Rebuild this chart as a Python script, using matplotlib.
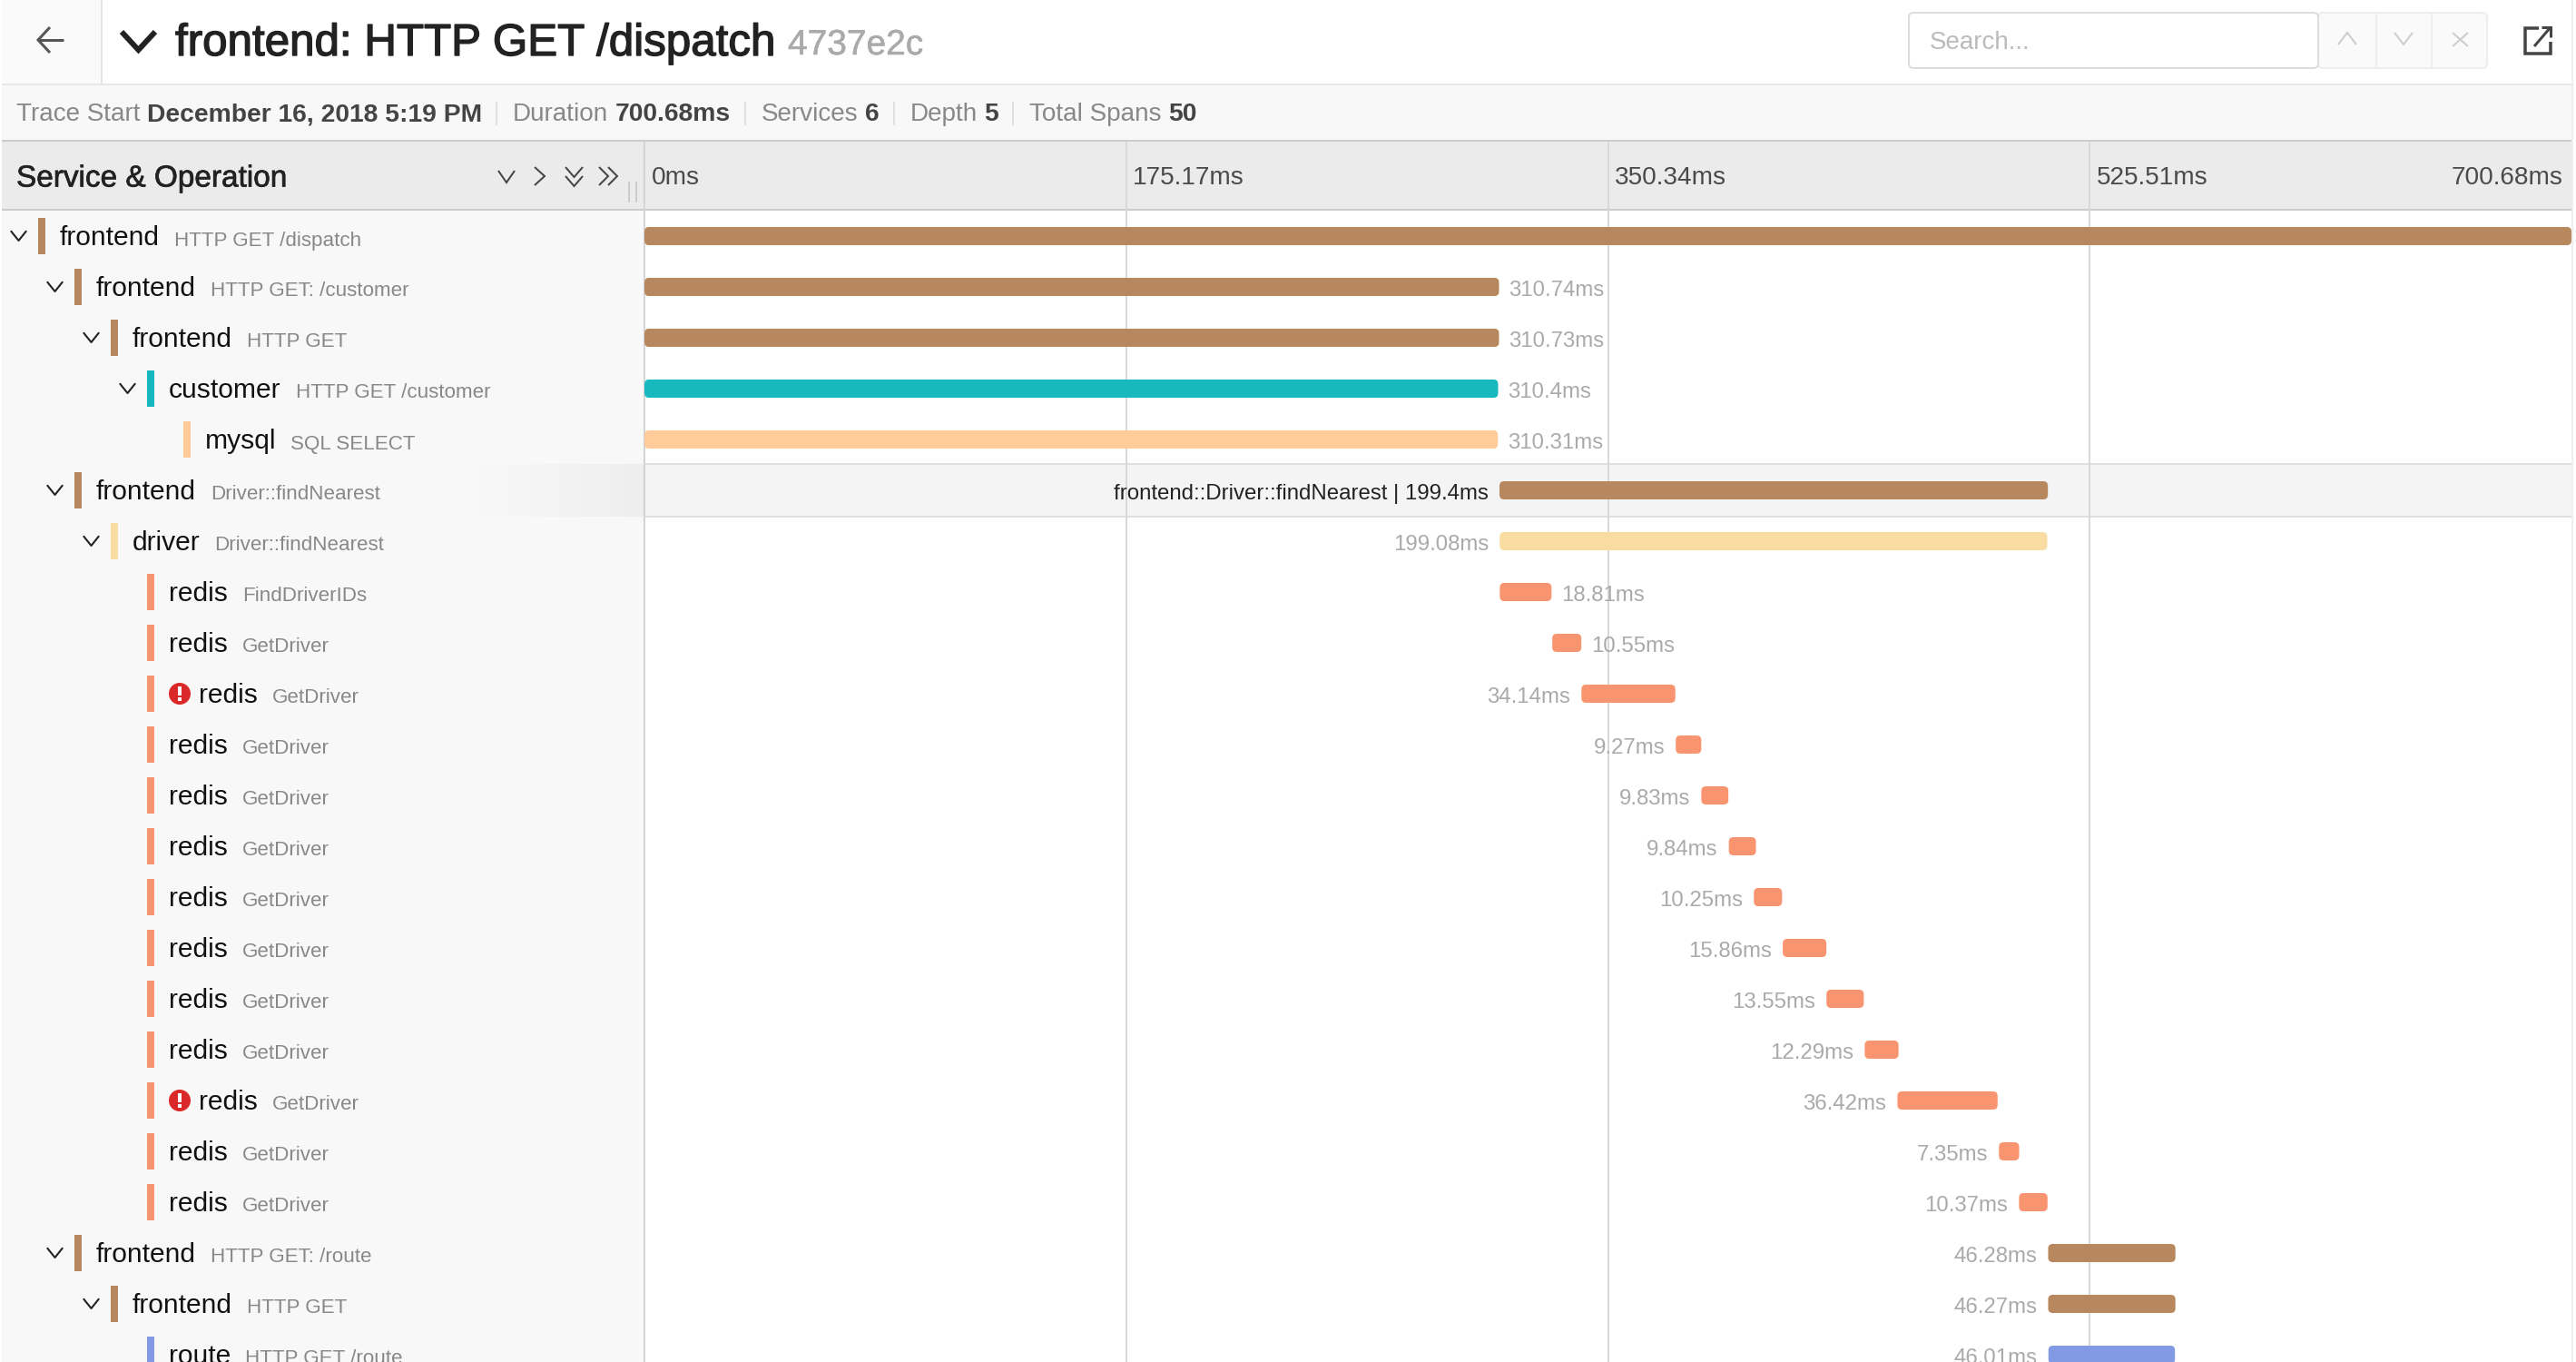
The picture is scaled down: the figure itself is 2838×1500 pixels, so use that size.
import numpy as np
import matplotlib
matplotlib.use("Agg")
import matplotlib.pyplot as plt
import matplotlib.patheffects as pe
from matplotlib.colors import LinearSegmentedColormap
from matplotlib.patches import FancyBboxPatch, Rectangle, Circle

plt.rcParams['font.family'] = ['Liberation Sans', 'DejaVu Sans']

# Spans
services = ["frontend", "frontend", "frontend", "customer", "mysql", "frontend", "driver",
            "redis", "redis", "redis", "redis", "redis", "redis", "redis", "redis",
            "redis", "redis", "redis", "redis", "redis", "frontend", "frontend", "route"]
operations = ["HTTP GET /dispatch", "HTTP GET: /customer", "HTTP GET", "HTTP GET /customer", "SQL SELECT",
              "Driver::findNearest", "Driver::findNearest", "FindDriverIDs", "GetDriver", "GetDriver",
              "GetDriver", "GetDriver", "GetDriver", "GetDriver", "GetDriver", "GetDriver", "GetDriver",
              "GetDriver", "GetDriver", "GetDriver", "HTTP GET: /route", "HTTP GET", "HTTP GET /route"]
levels = [0, 1, 2, 3, 4, 1, 2, 3, 3, 3, 3, 3, 3, 3, 3, 3, 3, 3, 3, 3, 1, 2, 3]
starts = [0, 0, 0, 0, 0, 310.9, 311.0, 311.0, 330.1, 340.7, 375.0, 384.3, 394.3,
          403.4, 413.9, 429.8, 443.7, 455.6, 492.5, 499.8, 510.4, 510.4, 510.5]
durations = [700.68, 310.74, 310.73, 310.4, 310.31, 199.4, 199.08, 18.81, 10.55, 34.14, 9.27, 9.83, 9.84,
             10.25, 15.86, 13.55, 12.29, 36.42, 7.35, 10.37, 46.28, 46.27, 46.01]
label_right = [1, 2, 3, 4, 7, 8]
has_children = [0, 1, 2, 3, 5, 6, 20, 21]
has_error = [9, 17]
hover_row = 5
hover_label = "frontend::Driver::findNearest | 199.4ms"

service_colors = {"frontend": "#B7885E", "customer": "#17B8BE", "mysql": "#FFCB99",
                  "driver": "#F8DCA1", "redis": "#F89570", "route": "#829AE3"}

# Time axis
tick_times = [0, 175.17, 350.34, 525.51]
tick_labels = ["0ms", "175.17ms", "350.34ms", "525.51ms"]
total_time = 700.68
total_label = "700.68ms"

# Header text
title = "frontend: HTTP GET /dispatch"
trace_id = "4737e2c"
meta_names = ["Trace Start", "Duration", "Services", "Depth", "Total Spans"]
meta_values = ["December 16, 2018 5:19 PM", "700.68ms", "6", "5", "50"]

PT = 0.72  # one pixel in points at dpi 100
W, H = 2838, 1500
ROW0, ROW_H = 260, 56
TL_LEFT, TL_RIGHT, TL_TOP = 710, 2833, 156


def row_y(i):
    return ROW0 + ROW_H * i


def stroke(w, color):
    return [pe.withStroke(linewidth=w, foreground=color)]


fig = plt.figure(figsize=(W / 100, H / 100), dpi=100, facecolor="white")
rend = fig.canvas.get_renderer()

# Page furniture lives in a pixel axes
ax = fig.add_axes([0, 0, 1, 1], zorder=0)
ax.axis("off")
ax.set_xlim(0, W)
ax.set_ylim(H, 0)


def line(xs, ys, color, px=2, **kw):
    ax.plot(xs, ys, color=color, lw=px * PT, solid_capstyle=kw.pop("cap", "butt"),
            solid_joinstyle="miter", **kw)


def box(x0, y0, x1, y1, color):
    ax.add_patch(Rectangle((x0, y0), x1 - x0, y1 - y0, fc=color, ec="none", lw=0))


box(2, 0, 112, 92, "#FAFAFA")
box(2, 92, 2833, 94, "#E8E8E8")
box(2, 94, 2833, 154, "#F8F8F8")
box(2, 154, 2833, 156, "#CCCCCC")
box(2, 156, 2833, 230, "#EBEBEB")
box(2, 230, 2833, 232, "#CCCCCC")
box(2, 232, 710, H, "#F8F8F8")
box(111, 0, 113, 92, "#E4E4E4")
box(2833, 0, 2835, H, "#EEEEEE")

# back arrow and title
line([70, 42], [44, 44], "#555555", 3)
line([55, 42, 55], [30, 44, 58], "#555555", 3)
line([134, 152.5, 171], [35, 55, 35], "#222222", 6)
ax.text(193, 61, title, fontsize=35.5, color="#222222", va="baseline",
        path_effects=stroke(1.0, "#222222"))
ax.text(868, 60, trace_id, fontsize=28, color="#AAAAAA", va="baseline",
        path_effects=stroke(0.4, "#AAAAAA"))

# search box
ax.add_patch(FancyBboxPatch((2554, 14), 186, 61, boxstyle="round,pad=0,rounding_size=5",
                            fc="#FAFAFA", ec="#EEEEEE", lw=2 * PT))
ax.add_patch(FancyBboxPatch((2103, 14), 451, 61, boxstyle="round,pad=0,rounding_size=5",
                            fc="white", ec="#DDDDDD", lw=2 * PT))
ax.text(2126, 54, "Search...", fontsize=20, color="#BBBBBB", va="baseline")
line([2618, 2618], [14, 75], "#EEEEEE")
line([2679, 2679], [14, 75], "#EEEEEE")
line([2576, 2586, 2596], [49, 36, 49], "#CCCCCC")
line([2638, 2648, 2658], [36, 49, 36], "#CCCCCC")
line([2702, 2719], [36, 51], "#CCCCCC")
line([2719, 2702], [36, 51], "#CCCCCC")

# external link icon
line([2797, 2782, 2782, 2810, 2810], [31, 31, 59, 59, 46], "#444444", 3.5)
line([2792, 2810], [51, 30], "#444444", 3)
line([2800, 2810, 2810], [30, 30, 41], "#444444", 3)

# meta row
x = 18
for i, (n, v) in enumerate(zip(meta_names, meta_values)):
    a = ax.text(x, 133, n, fontsize=20.1, color="#888888", va="baseline")
    x = a.get_window_extent(rend).x1 + 7.5
    b = ax.text(x, 133, v, fontsize=20.3, color="#444444", va="baseline", fontweight="bold")
    x = b.get_window_extent(rend).x1 + 16
    if i < len(meta_names) - 1:
        line([x, x], [112, 138], "#E0E0E0")
    x += 18

# column header
ax.text(18, 205.5, "Service & Operation", fontsize=24, color="#222222", va="baseline",
        path_effects=stroke(0.5, "#222222"))
line([549, 558, 567], [188, 201, 188], "#444444")
line([589, 600, 589], [184, 194, 204], "#444444")
line([623, 632.5, 642], [184, 195, 184], "#444444")
line([623, 632.5, 642], [194, 205, 194], "#444444")
line([660, 670, 660], [184, 194, 204], "#444444")
line([670, 680, 670], [184, 194, 204], "#444444")
line([693, 693], [200, 223], "#CCCCCC")
line([701, 701], [200, 223], "#CCCCCC")

# hover fade in the left panel
fade = LinearSegmentedColormap.from_list("fade", ["#F8F8F8", "#EEEEEE"])
ax.imshow(np.linspace(0, 1, 64).reshape(1, -1), cmap=fade, aspect="auto",
          extent=(528, 710, row_y(hover_row) + 29, row_y(hover_row) - 29), zorder=1)
ax.set_xlim(0, W)
ax.set_ylim(H, 0)

# left column rows
for i, (svc, op, lev) in enumerate(zip(services, operations, levels)):
    y = row_y(i)
    sx = 42 + 40 * lev
    box(sx, y - 20, sx + 8, y + 20, service_colors[svc])
    if i in has_children:
        cx = 20.5 + 40 * lev
        ax.plot([cx - 8, cx, cx + 8], [y - 5, y + 5, y - 5], color="#222222", lw=1.5, zorder=3)
    tx = sx + 24
    if i in has_error:
        ax.add_patch(Circle((tx + 12, y), 12, fc="#DB2828", ec="none", zorder=3))
        ax.add_patch(Rectangle((tx + 10, y - 8), 4, 10, fc="white", ec="none", zorder=4))
        ax.add_patch(Rectangle((tx + 10, y + 4), 4, 4, fc="white", ec="none", zorder=4))
        tx += 33
    s = ax.text(tx, y + 10.5, svc, fontsize=21.6, color="#111111", va="baseline", zorder=3)
    ax.text(s.get_window_extent(rend).x1 + 16, y + 10.5, op, fontsize=16.1, color="#888888",
            va="baseline", zorder=3)

# Timeline axes: x in ms, y in rows
tl = fig.add_axes([TL_LEFT / W, 0, (TL_RIGHT - TL_LEFT) / W, (H - TL_TOP) / H], zorder=1)
tl.patch.set_alpha(0)
tl.set_xlim(0, total_time)
tl.set_ylim((H - ROW0) / ROW_H, (TL_TOP - ROW0) / ROW_H)
for sp in tl.spines.values():
    sp.set_visible(False)
tl.set_yticks([])
tl.set_xticks(tick_times)
tl.tick_params(axis="x", length=0, labelbottom=False)
tl.grid(axis="x", color="#D8D8D8", lw=2 * PT)
tl.set_axisbelow(True)

tl.axhspan(hover_row - 29 / ROW_H, hover_row + 29 / ROW_H, fc="#F4F4F4", ec="none", zorder=0.2)
for edge in (-29, 29):
    tl.axhline(hover_row + edge / ROW_H, color="#DFDFDF", lw=2 * PT, zorder=0.3)

header_row = (203 - ROW0) / ROW_H
for tt, lab in zip(tick_times, tick_labels):
    tl.annotate(lab, (tt, header_row), xytext=(5.4, 0), textcoords="offset points",
                fontsize=20.2, color="#4A4A4A", va="baseline", ha="left")
tl.annotate(total_label, (total_time, header_row), xytext=(-6.5, 0), textcoords="offset points",
            fontsize=20.2, color="#4A4A4A", va="baseline", ha="right")

# rounded corners need the ms/row ratio so they stay circular in pixels
ms_per_px = total_time / (TL_RIGHT - TL_LEFT)
radius = 5 * ms_per_px
aspect = (5 / ROW_H) / radius
bar_h = 20 / ROW_H

for i, (svc, st, d) in enumerate(zip(services, starts, durations)):
    tl.add_patch(FancyBboxPatch((st, i - bar_h / 2), d, bar_h,
                                boxstyle=f"round,pad=0,rounding_size={radius}",
                                mutation_aspect=aspect, fc=service_colors[svc], ec="none", lw=0, zorder=2))
    if i == 0:
        continue
    if i == hover_row:
        tl.annotate(hover_label, (st, i), xytext=(-8.6, -7), textcoords="offset points",
                    fontsize=17.3, color="#222222", va="baseline", ha="right", zorder=3)
    elif i in label_right:
        tl.annotate(f"{d:g}ms", (st + d, i), xytext=(8, -7), textcoords="offset points",
                    fontsize=17.3, color="#AAAAAA", va="baseline", ha="left", zorder=3)
    else:
        tl.annotate(f"{d:g}ms", (st, i), xytext=(-8.6, -7), textcoords="offset points",
                    fontsize=17.3, color="#AAAAAA", va="baseline", ha="right", zorder=3)

# column divider on top of the hover band
ax.plot([710, 710], [156, H], color="#D0D0D0", lw=2 * PT, zorder=5)

fig.savefig("out.png", dpi=100)
